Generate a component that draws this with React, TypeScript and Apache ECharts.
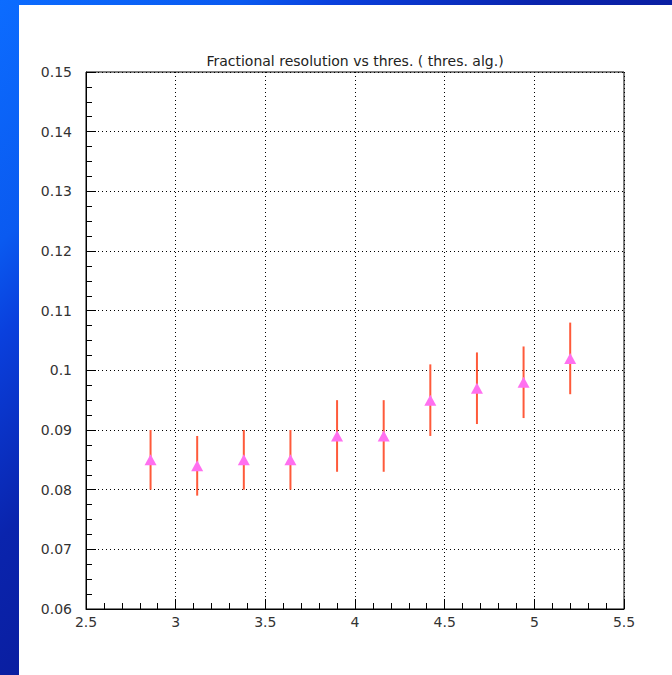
import React, { useEffect, useRef } from "react";
import * as echarts from "echarts";

const xValues = [2.86, 3.12, 3.38, 3.64, 3.9, 4.16, 4.42, 4.68, 4.94, 5.2];
const yValues = [0.085, 0.084, 0.085, 0.085, 0.089, 0.089, 0.095, 0.097, 0.098, 0.102];
const yLow = [0.08, 0.079, 0.08, 0.08, 0.083, 0.083, 0.089, 0.091, 0.092, 0.096];
const yHigh = [0.09, 0.089, 0.09, 0.09, 0.095, 0.095, 0.101, 0.103, 0.104, 0.108];
const titleText = "Fractional resolution vs thres. ( thres. alg.)";

const FONT = "DejaVu Sans";

export default function App() {
  const ref = useRef<HTMLDivElement>(null);
  useEffect(() => {
    document.body.style.margin = "0";
    if (!ref.current) return;
    const chart = echarts.init(ref.current, undefined, { renderer: "svg" });
    const points = xValues.map((x, i) => [x, yValues[i]]);
    const bars = xValues.map((x, i) => [x, yLow[i], yHigh[i]]);
    chart.setOption({
      animation: false,
      backgroundColor: "transparent",
      grid: {
        left: 86,
        right: 48,
        top: 72,
        bottom: 66,
        show: true,
        borderColor: "#000",
        borderWidth: 1,
        backgroundColor: "transparent",
      },
      graphic: [
        {
          type: "text",
          x: 355,
          y: 61,
          style: {
            text: titleText,
            textAlign: "center",
            textVerticalAlign: "middle",
            fontFamily: FONT,
            fontSize: 14,
            fill: "#222",
          },
        },
      ],
      xAxis: {
        type: "value",
        min: 2.5,
        max: 5.5,
        interval: 0.5,
        axisLine: { show: true, onZero: false, lineStyle: { color: "#000", width: 1 } },
        axisTick: { show: true, inside: true, length: 10, lineStyle: { color: "#000" } },
        minorTick: { show: true, splitNumber: 5, length: 6, lineStyle: { color: "#000" } },
        splitLine: { show: true, lineStyle: { color: "#000", type: [1, 3], width: 1 } },
        axisLabel: { fontFamily: FONT, fontSize: 14, color: "#333", margin: 6 },
      },
      yAxis: {
        type: "value",
        min: 0.06,
        max: 0.15,
        interval: 0.01,
        axisLine: { show: true, onZero: false, lineStyle: { color: "#000", width: 1 } },
        axisTick: { show: true, inside: true, length: 10, lineStyle: { color: "#000" } },
        minorTick: { show: true, splitNumber: 4, length: 6, lineStyle: { color: "#000" } },
        splitLine: { show: true, lineStyle: { color: "#000", type: [1, 3], width: 1 } },
        axisLabel: {
          fontFamily: FONT,
          fontSize: 14,
          color: "#333",
          margin: 14,
          formatter: (v: number) => String(parseFloat(v.toFixed(3))),
        },
      },
      series: [
        {
          type: "custom",
          data: bars,
          z: 2,
          renderItem: (params: any, api: any) => {
            const x = api.value(0);
            const p1 = api.coord([x, api.value(1)]);
            const p2 = api.coord([x, api.value(2)]);
            return {
              type: "line",
              shape: { x1: p1[0], y1: p1[1], x2: p2[0], y2: p2[1] },
              style: { stroke: "#ff5a3a", lineWidth: 2 },
            };
          },
          encode: { x: 0, y: [1, 2] },
        },
        {
          type: "scatter",
          data: points,
          z: 3,
          symbol: "triangle",
          symbolSize: [12, 11],
          itemStyle: { color: "#ff70f0", opacity: 1 },
        },
      ],
    });
    return () => chart.dispose();
  }, []);
  return (
    <div
      style={{
        position: "relative",
        width: 672,
        height: 675,
        overflow: "hidden",
        background:
          "linear-gradient(135deg, #0c6cff 0%, #0a5af0 18%, #0a40dd 25%, #0a24ad 40%, #0a1a98 60%, #0a1690 100%)",
      }}
    >
      <div
        style={{
          position: "absolute",
          left: 19,
          top: 5,
          width: 653,
          height: 670,
          background: "#fff",
        }}
      />
      <div ref={ref} style={{ position: "absolute", left: 0, top: 0, width: 672, height: 675 }} />
    </div>
  );
}
